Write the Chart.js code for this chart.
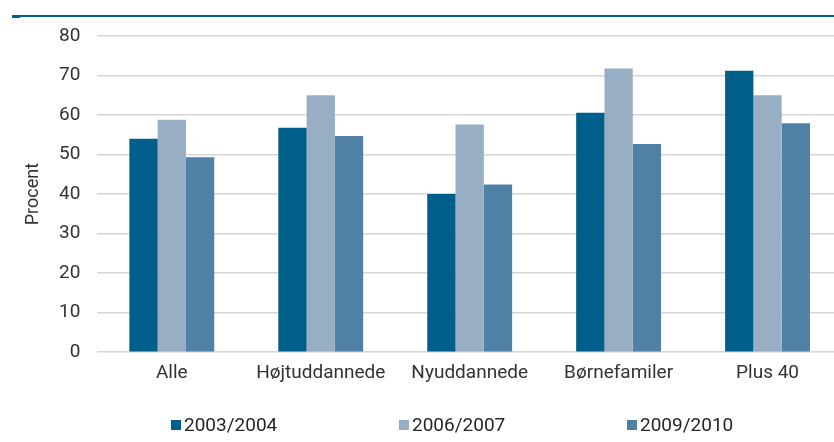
<!DOCTYPE html>
<html>
<head>
<meta charset="utf-8">
<script src="https://cdn.jsdelivr.net/npm/chart.js@4.4.1/dist/chart.umd.min.js"></script>
<style>
    html, body { margin: 0; padding: 0; background: #fff; overflow: hidden; width: 834px; height: 442px; }
    #wrap { position: relative; width: 834px; height: 442px; overflow: hidden; }
    #chart { position: absolute; left: 0; top: 0; }
    .rule { position: absolute; left: 12px; right: 0; top: 15px; height: 2px; background: #00618e; }
    .rule-notch { position: absolute; left: 12px; top: 15px; width: 8px; height: 3px; background: #00618e; }
    #legend { position: absolute; left: 171px; top: 413px; display: flex; font-family: Roboto, sans-serif; font-size: 19px; color: #262626; }
    #legend .item { width: 228px; display: flex; align-items: center; white-space: nowrap; }
    #legend .box { width: 10px; height: 10px; margin-right: 3px; }
</style>
</head>
<body>
<div id="wrap">
    <div class="rule"></div>
    <div class="rule-notch"></div>
    <canvas id="chart" width="842" height="442"></canvas>
    <div id="legend"></div>
</div>
<script>
const categories = ['Alle', 'Højtuddannede', 'Nyuddannede', 'Børnefamiler', 'Plus 40'];
const seriesLabels = ['2003/2004', '2006/2007', '2009/2010'];
const values2003 = [54.0, 56.8, 40.0, 60.6, 71.2];
const values2006 = [58.8, 65.0, 57.6, 71.8, 65.0];
const values2009 = [49.3, 54.7, 42.4, 52.7, 57.9];
const seriesColors = ['#005f8a', '#98aec5', '#4f80a5'];
const yTicks = [0, 10, 20, 30, 40, 50, 60, 70, 80];

const FONT = 'Roboto, sans-serif';
const TEXT_COLOR = '#333333';
const GRID_COLOR = '#d6d6d6';

const seriesValues = [values2003, values2006, values2009];

const datasets = seriesLabels.map((label, i) => ({
    label,
    data: seriesValues[i],
    backgroundColor: seriesColors[i],
    borderWidth: 0,
    categoryPercentage: 0.57,
    barPercentage: 1,
}));

const ctx = document.getElementById('chart').getContext('2d');

new Chart(ctx, {
    type: 'bar',
    data: { labels: categories, datasets },
    options: {
        responsive: false,
        animation: false,
        layout: {
            padding: { top: 36, left: 24, right: 0, bottom: 47 },
        },
        scales: {
            x: {
                grid: { display: false, drawTicks: false },
                border: { display: false },
                ticks: {
                    color: TEXT_COLOR,
                    font: { family: FONT, size: 19 },
                    padding: 10,
                    maxRotation: 0,
                },
            },
            y: {
                min: 0,
                max: 80,
                afterBuildTicks: (axis) => {
                    axis.ticks = yTicks.map(v => ({ value: v }));
                },
                grid: {
                    color: GRID_COLOR,
                    lineWidth: 1.5,
                    drawTicks: false,
                },
                border: { display: false },
                ticks: {
                    color: TEXT_COLOR,
                    font: { family: FONT, size: 19 },
                    padding: 17,
                },
                title: {
                    display: true,
                    text: 'Procent',
                    color: TEXT_COLOR,
                    font: { family: FONT, size: 18, lineHeight: 1 },
                    padding: { top: 0, bottom: 0 },
                },
            },
        },
        plugins: {
            legend: { display: false },
            tooltip: { enabled: false },
        },
    },
});

// legend below the plot
const legendEl = document.getElementById('legend');
seriesLabels.forEach((label, i) => {
    const item = document.createElement('div');
    item.className = 'item';
    const box = document.createElement('span');
    box.className = 'box';
    box.style.background = seriesColors[i];
    const text = document.createElement('span');
    text.textContent = label;
    item.appendChild(box);
    item.appendChild(text);
    legendEl.appendChild(item);
});
</script>
</body>
</html>
